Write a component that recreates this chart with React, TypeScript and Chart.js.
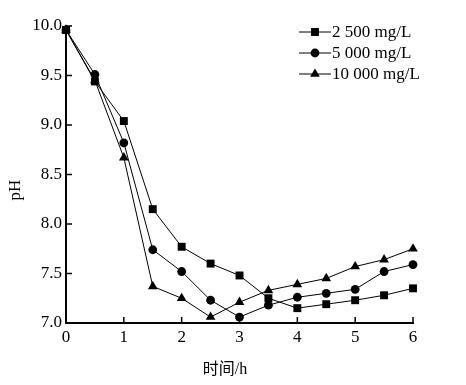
import React, { useEffect, useRef } from "react";
import { Chart, registerables } from "chart.js";

Chart.register(...registerables);

const times = [0, 0.5, 1, 1.5, 2, 2.5, 3, 3.5, 4, 4.5, 5, 5.5, 6];
const series2500 = [9.96, 9.44, 9.04, 8.15, 7.77, 7.60, 7.48, 7.25, 7.15, 7.19, 7.23, 7.28, 7.35];
const series5000 = [9.96, 9.51, 8.82, 7.74, 7.52, 7.23, 7.06, 7.18, 7.26, 7.30, 7.34, 7.52, 7.59];
const series10000 = [9.96, 9.45, 8.67, 7.37, 7.25, 7.06, 7.21, 7.33, 7.39, 7.45, 7.57, 7.64, 7.75];
const seriesLabels = ["2 500 mg/L", "5 000 mg/L", "10 000 mg/L"];
const xTitle = "时间/h";
const yTitle = "pH";

const FONT = '"Liberation Serif", "Noto Sans CJK SC", serif';

export default function App() {
  const ref = useRef<HTMLCanvasElement | null>(null);

  useEffect(() => {
    if (!ref.current) return;
    const styles = ["rect", "circle", "triangle"] as const;
    const radii = [5.6, 4.4, 5.6];
    const datasets = [series2500, series5000, series10000].map((s, i) => ({
      label: seriesLabels[i],
      data: times.map((t, j) => ({ x: t, y: s[j] })),
      borderColor: "#000",
      backgroundColor: "#000",
      borderWidth: 1,
      pointStyle: styles[i],
      pointRadius: radii[i],
      pointBorderWidth: 0,
      pointBackgroundColor: "#000",
      clip: false as any,
    }));

    const extras = {
      id: "extras",
      afterDraw(chart: any) {
        const ctx = chart.ctx as CanvasRenderingContext2D;
        const xs = chart.scales.x;
        const ys = chart.scales.y;
        const area = chart.chartArea;
        ctx.save();
        ctx.strokeStyle = "#000";
        ctx.lineWidth = 1.5;
        // inner ticks
        for (let v = 1; v <= 6; v++) {
          const px = xs.getPixelForValue(v);
          ctx.beginPath();
          ctx.moveTo(px, area.bottom);
          ctx.lineTo(px, area.bottom - 6);
          ctx.stroke();
        }
        for (let v = 7.5; v <= 10.001; v += 0.5) {
          const py = ys.getPixelForValue(v);
          ctx.beginPath();
          ctx.moveTo(area.left, py);
          ctx.lineTo(area.left + 6, py);
          ctx.stroke();
        }
        // axis titles
        ctx.fillStyle = "#000";
        ctx.font = `16px ${FONT}`;
        ctx.textAlign = "center";
        ctx.textBaseline = "middle";
        ctx.fillText(xTitle, 225, 370);
        ctx.save();
        ctx.translate(16, 190);
        ctx.rotate(-Math.PI / 2);
        ctx.font = `17px ${FONT}`;
        ctx.fillText(yTitle, 0, 0);
        ctx.restore();
        // legend
        ctx.textAlign = "left";
        ctx.lineWidth = 1;
        const rowsY = [32, 53, 74];
        chart.data.datasets.forEach((ds: any, i: number) => {
          const y = rowsY[i];
          ctx.beginPath();
          ctx.moveTo(299, y);
          ctx.lineTo(331, y);
          ctx.stroke();
          const r = radii[i];
          ctx.beginPath();
          if (styles[i] === "rect") {
            const s = Math.SQRT1_2 * r;
            ctx.rect(315 - s, y - s, 2 * s, 2 * s);
          } else if (styles[i] === "circle") {
            ctx.arc(315, y, r, 0, Math.PI * 2);
          } else {
            ctx.moveTo(315, y - r);
            ctx.lineTo(315 + r * 0.866, y + r * 0.5);
            ctx.lineTo(315 - r * 0.866, y + r * 0.5);
            ctx.closePath();
          }
          ctx.fill();
          ctx.font = `17px ${FONT}`;
          ctx.fillText(ds.label, 332, y + 1);
        });
        ctx.restore();
      },
    };

    const chart = new Chart(ref.current, {
      type: "line",
      data: { datasets },
      options: {
        animation: false,
        responsive: false,
        devicePixelRatio: 1,
        layout: { padding: { left: 0, right: 53, top: 26, bottom: 0 } },
        plugins: { legend: { display: false }, tooltip: { enabled: false } },
        scales: {
          x: {
            type: "linear",
            min: 0,
            max: 6,
            grid: { display: false, drawTicks: false },
            border: { display: true, color: "#000", width: 2 },
            ticks: {
              stepSize: 1,
              color: "#000",
              font: { family: FONT, size: 17 },
              padding: 4,
              maxRotation: 0,
            },
            afterFit: (s: any) => {
              s.height = 62;
            },
          },
          y: {
            type: "linear",
            min: 7,
            max: 10,
            grid: { display: false, drawTicks: false },
            border: { display: true, color: "#000", width: 2 },
            ticks: {
              stepSize: 0.5,
              color: "#000",
              font: { family: FONT, size: 17 },
              padding: 4,
              callback: (v: any) => Number(v).toFixed(1),
            },
            afterFit: (s: any) => {
              s.width = 66;
            },
          },
        },
      },
      plugins: [extras],
    });
    return () => chart.destroy();
  }, []);

  return (
    <div style={{ position: "fixed", left: 0, top: 0, width: 466, height: 385, background: "#fff" }}>
      <canvas ref={ref} width={466} height={385} style={{ width: 466, height: 385 }} />
    </div>
  );
}
